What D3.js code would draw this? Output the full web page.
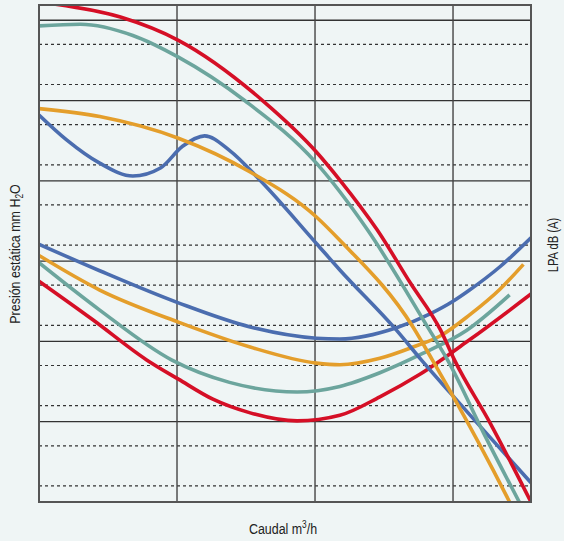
<!DOCTYPE html>
<html>
<head>
<meta charset="utf-8">
<script src="https://cdn.jsdelivr.net/npm/d3@7"></script>
<style>
  body { margin: 0; background: #eff5f5; }
  svg text { font-family: "Liberation Sans", "Arial", sans-serif; fill: #222; }
</style>
</head>
<body>
<div id="chart"></div>
<script>
// Data (x in m3/h, y in mm H2O / dB scale units)
const xGrid = [100, 200, 300];
const yGrid = [10, 20, 30, 40, 50, 60];
const yDashed = [2, 7, 12, 17, 22, 27, 32, 37, 42, 47, 52, 57];

const pressRed = [[12, 62], [59, 60.4], [101, 57.5], [162, 50], [201, 43.6], [218, 40.1], [245, 33.9], [269, 27.3], [291, 21.4], [301, 17.7], [327, 9.8], [356.5, 0]];
const pressTeal = [[0, 59.3], [30, 59.5], [68, 58.1], [101, 55.4], [149, 50], [201, 42.2], [238, 33.9], [283, 21.4], [296, 17.7], [323, 8.3], [348, 0]];
const pressOrange = [[0, 49], [44, 48], [101, 45.3], [153, 41.1], [201, 35.5], [218, 32.6], [271, 21.8], [285, 17.7], [329, 4], [341, 0]];
const pressBlue = [[0, 48.2], [20, 45.1], [44, 42.2], [68, 40.6], [88, 41.6], [104, 44.3], [120, 45.6], [138, 43.8], [160, 40.1], [201, 32.2], [218, 28.9], [259, 21.4], [277, 17.7], [299, 13.4], [356.5, 2.4]];

const lpaBlue = [[0, 32.1], [44, 28.8], [101, 24.8], [153, 21.8], [201, 20.4], [218, 20.3], [259, 21.7], [283, 23.4], [300, 25], [312, 26.4], [334, 29.3], [356.5, 32.9]];
const lpaOrange = [[0, 30.7], [44, 26.4], [101, 22.4], [153, 19.3], [201, 17.3], [218, 17.1], [247, 17.9], [271, 19.3], [291, 20.7], [312, 23.3], [334, 26.5], [351, 29.6]];
const lpaTeal = [[0, 29.8], [44, 23.9], [96, 17.7], [138, 14.9], [187, 13.7], [218, 14.4], [247, 16.1], [278, 18.5], [310, 21.4], [341, 25.8]];
const lpaRed = [[0, 27.5], [39, 22.7], [78, 17.7], [101, 15.3], [126, 12.8], [153, 11.1], [187, 10.1], [218, 10.8], [247, 13.1], [276, 15.9], [312, 20.2], [356.5, 25.9]];

const colors = { red: "#d50f26", teal: "#6ca59d", orange: "#e49e2b", blue: "#4b6daf" };

const series = [
  { pts: lpaBlue, c: colors.blue },
  { pts: lpaOrange, c: colors.orange },
  { pts: lpaTeal, c: colors.teal },
  { pts: lpaRed, c: colors.red },
  { pts: pressBlue, c: colors.blue },
  { pts: pressOrange, c: colors.orange },
  { pts: pressTeal, c: colors.teal },
  { pts: pressRed, c: colors.red }
];

// Dimensions
const width = 564;
const height = 541;
const margin = { top: 5, right: 33, bottom: 39, left: 39 };
const innerWidth = width - margin.left - margin.right;
const innerHeight = height - margin.top - margin.bottom;

const svg = d3.select("#chart")
  .append("svg")
    .attr("width", width)
    .attr("height", height);

const g = svg.append("g")
    .attr("transform", `translate(${margin.left}, ${margin.top})`);

const xScale = d3.scaleLinear()
  .domain([0, 356.5])
  .range([0, innerWidth]);
const yScale = d3.scaleLinear()
  .domain([0, 61.9])
  .range([innerHeight, 0]);

svg.append("defs").append("clipPath")
    .attr("id", "clip")
  .append("rect")
    .attr("width", innerWidth)
    .attr("height", innerHeight);

// Grid
g.append("g")
  .selectAll("line")
  .data(yDashed)
  .join("line")
    .attr("x1", 0)
    .attr("x2", innerWidth)
    .attr("y1", d => yScale(d))
    .attr("y2", d => yScale(d))
    .attr("stroke", "#333")
    .attr("stroke-width", 1.2)
    .attr("stroke-dasharray", "3,3");

g.append("g")
  .selectAll("line")
  .data(yGrid)
  .join("line")
    .attr("x1", 0)
    .attr("x2", innerWidth)
    .attr("y1", d => yScale(d))
    .attr("y2", d => yScale(d))
    .attr("stroke", "#333")
    .attr("stroke-width", 1.3);

g.append("g")
  .selectAll("line")
  .data(xGrid)
  .join("line")
    .attr("x1", d => xScale(d))
    .attr("x2", d => xScale(d))
    .attr("y1", 0)
    .attr("y2", innerHeight)
    .attr("stroke", "#444")
    .attr("stroke-width", 1.4);

// Curves
const line = d3.line()
  .x(d => xScale(d[0]))
  .y(d => yScale(d[1]))
  .curve(d3.curveMonotoneX);

g.append("g")
    .attr("clip-path", "url(#clip)")
  .selectAll("path")
  .data(series)
  .join("path")
    .attr("d", d => line(d.pts))
    .attr("fill", "none")
    .attr("stroke", d => d.c)
    .attr("stroke-width", 3.6)
    .attr("stroke-linecap", "butt");

// Frame
g.append("rect")
    .attr("width", innerWidth)
    .attr("height", innerHeight)
    .attr("fill", "none")
    .attr("stroke", "#555")
    .attr("stroke-width", 2);

// Labels (condensed look by horizontal squeeze)
const yLab = svg.append("text")
    .attr("transform", `translate(20, 254) rotate(-90) scale(0.83, 1)`)
    .attr("text-anchor", "middle")
    .attr("font-size", 15);
yLab.append("tspan").text("Presión estática mm H");
yLab.append("tspan").attr("font-size", 10).attr("dy", 3).text("2");
yLab.append("tspan").attr("dy", -3).text("O");

svg.append("text")
    .attr("transform", `translate(558, 245) rotate(-90) scale(0.8, 1)`)
    .attr("text-anchor", "middle")
    .attr("font-size", 14)
    .text("LPA dB (A)");

const xLab = svg.append("text")
    .attr("transform", `translate(283, 534) scale(0.83, 1)`)
    .attr("text-anchor", "middle")
    .attr("font-size", 15);
xLab.append("tspan").text("Caudal m");
xLab.append("tspan").attr("font-size", 10).attr("dy", -6).text("3");
xLab.append("tspan").attr("dy", 6).text("/h");
</script>
</body>
</html>
